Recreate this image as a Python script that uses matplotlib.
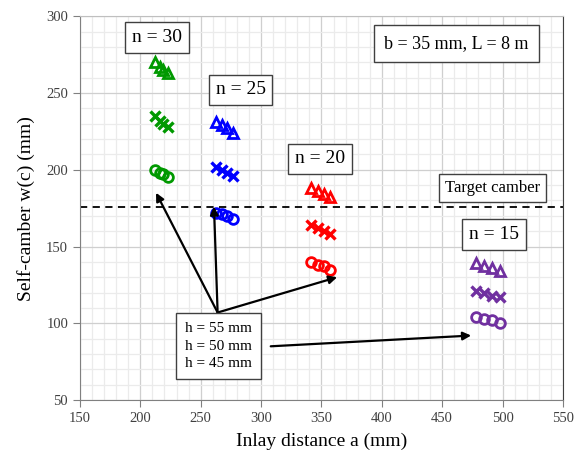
import matplotlib.pyplot as plt
from matplotlib.ticker import MultipleLocator

# ==================== DATA ====================

# inlay distance a (mm) for each number of inlays n
a_n30 = [212, 216, 219, 223]
a_n25 = [263, 268, 272, 277]
a_n20 = [341, 347, 352, 357]
a_n15 = [478, 485, 491, 498]

# self-camber w(c) (mm) for h = 55, 50, 45 mm
w_n30_h55 = [270, 267, 265, 263]
w_n30_h50 = [235, 232, 230, 228]
w_n30_h45 = [200, 198, 197, 195]

w_n25_h55 = [231, 229, 227, 224]
w_n25_h50 = [202, 200, 198, 196]
w_n25_h45 = [172, 171, 170, 168]

w_n20_h55 = [188, 186, 184, 182]
w_n20_h50 = [164, 162, 160, 158]
w_n20_h45 = [140, 138, 137, 135]

w_n15_h55 = [139, 137, 136, 134]
w_n15_h50 = [121, 120, 118, 117]
w_n15_h45 = [104, 103, 102, 100]

target_camber = 176

groups = [
    ("n = 30", a_n30, w_n30_h55, w_n30_h50, w_n30_h45, "#009900"),
    ("n = 25", a_n25, w_n25_h55, w_n25_h50, w_n25_h45, "#0000ff"),
    ("n = 20", a_n20, w_n20_h55, w_n20_h50, w_n20_h45, "#ff0000"),
    ("n = 15", a_n15, w_n15_h55, w_n15_h50, w_n15_h45, "#7030a0"),
]

# ==================== PLOT ====================

plt.rcParams['font.family'] = ['Liberation Serif', 'DejaVu Serif']

fig = plt.figure(figsize=(5.77, 4.63), dpi=100)
ax = fig.add_axes([0.1386, 0.136, 0.837, 0.829])

for label, a, w55, w50, w45, color in groups:
    ax.plot(a, w55, linestyle='none', marker='^', markersize=7,
            markerfacecolor='none', markeredgecolor=color, markeredgewidth=2.0)
    ax.plot(a, w50, linestyle='none', marker='x', markersize=7,
            color=color, markeredgewidth=2.4)
    ax.plot(a, w45, linestyle='none', marker='o', markersize=7,
            markerfacecolor='none', markeredgecolor=color, markeredgewidth=2.0)

ax.axhline(target_camber, color='black', linestyle=(0, (4, 3)), linewidth=1.3)

ax.set_xlim(150, 550)
ax.set_ylim(50, 300)
ax.xaxis.set_major_locator(MultipleLocator(50))
ax.yaxis.set_major_locator(MultipleLocator(50))
ax.xaxis.set_minor_locator(MultipleLocator(10))
ax.yaxis.set_minor_locator(MultipleLocator(10))
ax.grid(True, which='minor', color='#ebebeb', linewidth=0.9)
ax.grid(True, which='major', color='#cfcfcf', linewidth=0.9)
ax.set_axisbelow(True)
ax.tick_params(which='minor', length=0)
ax.tick_params(which='major', direction='out', length=5, color='#808080',
               labelsize=10.5, labelcolor='#404040')
for side in ['left', 'bottom', 'right', 'top']:
    ax.spines[side].set_color('#808080')
ax.spines['right'].set_color('#404040')
ax.spines['top'].set_color('#bfbfbf')

ax.set_xlabel('Inlay distance a (mm)', fontsize=14, labelpad=6)
ax.set_ylabel('Self-camber w(c) (mm)', fontsize=14, labelpad=8)

box = dict(boxstyle='square,pad=0.35', facecolor='white', edgecolor='#404040', linewidth=1)

# group labels
ax.text(214, 286, 'n = 30', fontsize=14, ha='center', va='center', bbox=box)
ax.text(283, 252, 'n = 25', fontsize=14, ha='center', va='center', bbox=box)
ax.text(349, 207, 'n = 20', fontsize=14, ha='center', va='center', bbox=box)
ax.text(493, 158, 'n = 15', fontsize=14, ha='center', va='center', bbox=box)

ax.text(462, 282, 'b = 35 mm, L = 8 m', fontsize=13, ha='center', va='center',
        bbox=dict(boxstyle='square,pad=0.55', facecolor='white', edgecolor='#404040', linewidth=1))
ax.text(492, 188, 'Target camber', fontsize=12, ha='center', va='center',
        bbox=dict(boxstyle='square,pad=0.35', facecolor='white', edgecolor='#404040', linewidth=1))

# arrows from the h legend box to each circle series
arrow = dict(arrowstyle='-|>', color='black', linewidth=1.6, mutation_scale=12,
             shrinkA=0, shrinkB=0)
start = (264, 107)
ax.annotate('', xy=(213, 185), xytext=start, arrowprops=arrow)
ax.annotate('', xy=(261, 176), xytext=start, arrowprops=arrow)
ax.annotate('', xy=(363, 130), xytext=start, arrowprops=arrow)
ax.annotate('', xy=(474, 92), xytext=(308, 85), arrowprops=arrow)

ax.text(265, 85, 'h = 55 mm\nh = 50 mm\nh = 45 mm', fontsize=11, ha='center',
        va='center', linespacing=1.45,
        bbox=dict(boxstyle='square,pad=0.6', facecolor='white', edgecolor='#404040', linewidth=1))

fig.savefig('out.png', dpi=100)
